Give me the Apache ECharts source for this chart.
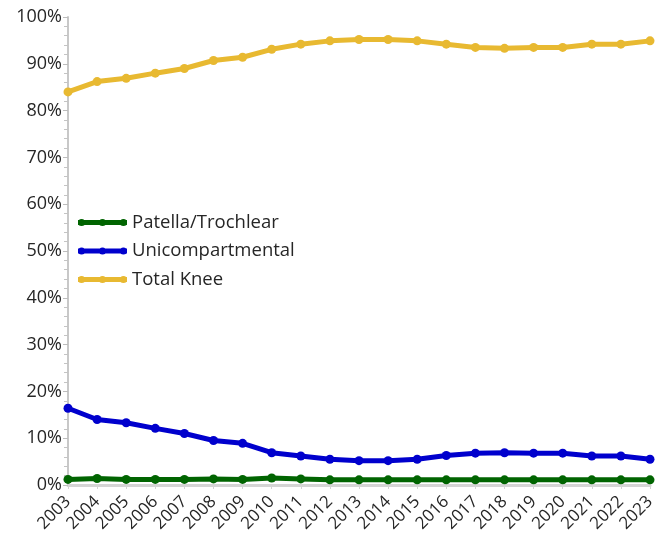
<!DOCTYPE html>
<html>
<head>
<meta charset="utf-8">
<script src="https://cdn.jsdelivr.net/npm/echarts@6/dist/echarts.min.js"></script>
<style>
html,body{margin:0;padding:0;background:#fff;}
#chart{width:670px;height:536px;}
</style>
</head>
<body>
<div id="chart"></div>
<script>
var years = ['2003','2004','2005','2006','2007','2008','2009','2010','2011','2012','2013','2014','2015','2016','2017','2018','2019','2020','2021','2022','2023'];
var patella = [1.2,1.4,1.2,1.2,1.2,1.3,1.2,1.5,1.3,1.1,1.1,1.1,1.1,1.1,1.1,1.1,1.1,1.1,1.1,1.1,1.1];
var unicompartmental = [16.4,14.0,13.3,12.1,11.0,9.5,8.9,6.9,6.2,5.5,5.2,5.2,5.5,6.3,6.8,6.9,6.8,6.8,6.2,6.2,5.5];
var totalKnee = [84.0,86.2,86.9,88.0,89.0,90.7,91.4,93.1,94.2,94.9,95.2,95.2,94.9,94.2,93.5,93.3,93.5,93.5,94.2,94.2,94.9];
var yTicks = ['0%','10%','20%','30%','40%','50%','60%','70%','80%','90%','100%'];

var FONT = 'Open Sans';
var legendIcon = 'path://M0,2.6 L48,2.6 L48,7.4 L0,7.4 Z M0,5 A3.5,3.5 0 1,1 7,5 A3.5,3.5 0 1,1 0,5 Z M20.5,5 A3.5,3.5 0 1,1 27.5,5 A3.5,3.5 0 1,1 20.5,5 Z M41,5 A3.5,3.5 0 1,1 48,5 A3.5,3.5 0 1,1 41,5 Z';

function mk(name, data, color) {
  return {
    name: name, type: 'line', data: data,
    symbol: 'circle', symbolSize: 9,
    lineStyle: {color: color, width: 5},
    itemStyle: {color: color},
    emphasis: {disabled: true},
    animation: false
  };
}

var chart = echarts.init(document.getElementById('chart'), null, {renderer: 'canvas'});
chart.setOption({
  backgroundColor: '#ffffff',
  animation: false,
  grid: {left: 68, right: 20, top: 17, bottom: 51, containLabel: false},
  legend: {
    orient: 'vertical', left: 78, top: 213, padding: 0,
    icon: legendIcon, itemWidth: 49, itemHeight: 10, itemGap: 9.5,
    textStyle: {fontFamily: FONT, fontSize: 18.5, color: '#262626', lineHeight: 19},
    data: ['Patella/Trochlear','Unicompartmental','Total Knee']
  },
  xAxis: {
    type: 'category', data: years, boundaryGap: false,
    axisLine: {lineStyle: {color: '#d4d4d4', width: 3}},
    axisTick: {show: true, alignWithLabel: true, length: 4, lineStyle: {color: '#d4d4d4'}},
    axisLabel: {rotate: 45, interval: 0, fontFamily: FONT, fontSize: 17, color: '#262626', margin: 14}
  },
  yAxis: {
    type: 'value', min: 0, max: 100, interval: 10,
    axisLine: {show: true, lineStyle: {color: '#c8c8c8', width: 2}},
    axisTick: {show: true, length: 5, lineStyle: {color: '#bdbdbd'}},
    minorTick: {show: true, splitNumber: 5, length: 4, lineStyle: {color: '#c4c4c4'}},
    splitLine: {show: false},
    axisLabel: {
      fontFamily: FONT, fontSize: 18, color: '#262626', margin: 6,
      formatter: function (v) { return yTicks[Math.round(v / 10)]; }
    }
  },
  series: [
    mk('Total Knee', totalKnee, '#E8B931'),
    mk('Unicompartmental', unicompartmental, '#0000CD'),
    mk('Patella/Trochlear', patella, '#006400')
  ]
});
</script>
</body>
</html>
